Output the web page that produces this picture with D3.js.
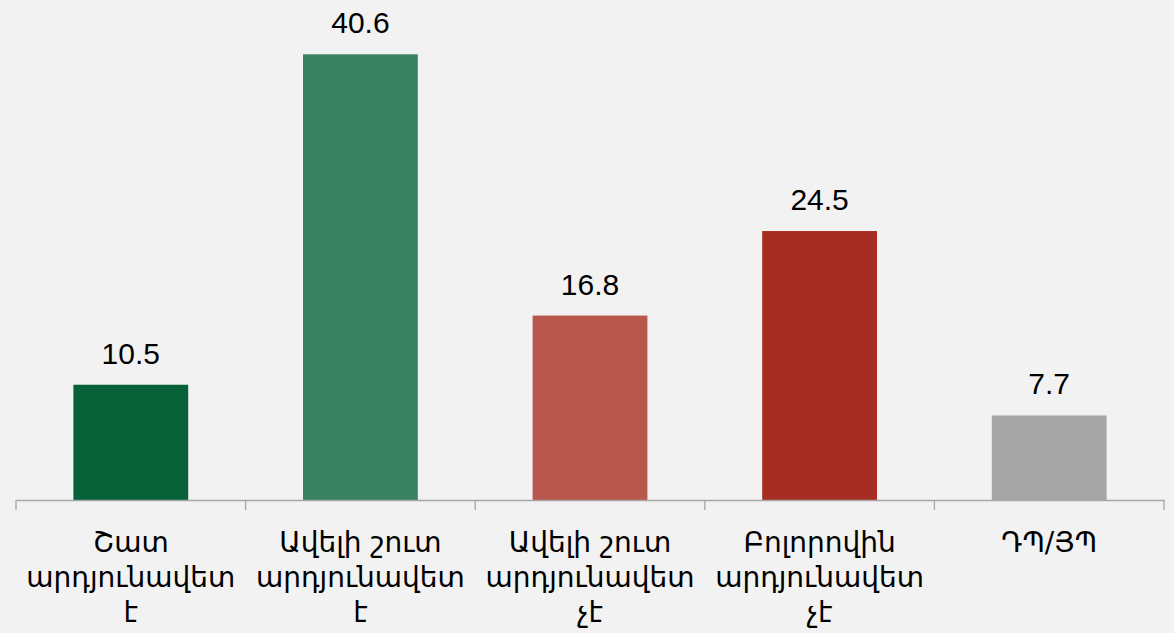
<!DOCTYPE html>
<html>
<head>
<meta charset="utf-8">
<script src="https://cdn.jsdelivr.net/npm/d3@7"></script>
<style>
  html, body { margin: 0; padding: 0; background: #f2f2f2; }
  svg { display: block; }
</style>
</head>
<body>
<svg id="chart" width="1174" height="633"></svg>
<script>
const categories = [
  "Շատ արդյունավետ է",
  "Ավելի շուտ արդյունավետ է",
  "Ավելի շուտ արդյունավետ չէ",
  "Բոլորովին արդյունավետ չէ",
  "ԴՊ/ՅՊ"
];
const values = [10.5, 40.6, 16.8, 24.5, 7.7];
const colors = ["#07623a", "#388262", "#b8574c", "#a52d22", "#a6a6a6"];

const W = 1174, H = 633;
const svg = d3.select("#chart");
svg.append("rect").attr("width", W).attr("height", H).attr("fill", "#f2f2f2");

const x = d3.scaleBand().domain(categories).range([16, 1164]).paddingInner(0).paddingOuter(0);
const y = d3.scaleLinear().domain([0, 45]).range([500, 6]);

const barW = x.bandwidth() * 0.5;

svg.selectAll("rect.bar").data(categories).join("rect")
  .attr("class", "bar")
  .attr("x", d => x(d) + (x.bandwidth() - barW) / 2)
  .attr("y", (d, i) => y(values[i]))
  .attr("width", barW)
  .attr("height", (d, i) => y(0) - y(values[i]))
  .attr("fill", (d, i) => colors[i]);

svg.selectAll("text.val").data(categories).join("text")
  .attr("class", "val")
  .attr("x", d => x(d) + x.bandwidth() / 2)
  .attr("y", (d, i) => y(values[i]) - 21)
  .attr("text-anchor", "middle")
  .attr("font-family", "Liberation Sans, Arial, sans-serif")
  .attr("font-size", 30)
  .attr("fill", "#000")
  .text((d, i) => values[i].toFixed(1));

// axis
const axis = d3.axisBottom(x).tickSize(0).tickFormat("");
const gAxis = svg.append("g").attr("transform", "translate(0,500)").call(axis);
gAxis.select(".domain").attr("stroke", "#a6a6a6").attr("stroke-width", 1.3);
const bounds = x.domain().map(d => x(d)).concat([x.range()[1]]);
gAxis.selectAll("line.sep").data(bounds).join("line")
  .attr("class", "sep")
  .attr("x1", d => d).attr("x2", d => d)
  .attr("y1", 0).attr("y2", 10)
  .attr("stroke", "#a6a6a6").attr("stroke-width", 1.3);

// category labels with wrapping
const labelFont = "DejaVu Sans, Noto Sans, sans-serif";
const labels = svg.selectAll("text.cat").data(categories).join("text")
  .attr("class", "cat")
  .attr("x", d => x(d) + x.bandwidth() / 2)
  .attr("y", 0)
  .attr("text-anchor", "middle")
  .attr("font-family", labelFont)
  .attr("font-size", 28)
  .attr("fill", "#000");

labels.each(function(d) {
  const t = d3.select(this);
  const words = d.split(" ");
  const maxW = x.bandwidth() - 8;
  let lines = [];
  let line = [];
  const tmp = t.append("tspan");
  words.forEach(w => {
    const test = line.concat([w]).join(" ");
    tmp.text(test);
    if (tmp.node().getComputedTextLength() > maxW && line.length) {
      lines.push(line.join(" "));
      line = [w];
    } else {
      line.push(w);
    }
  });
  lines.push(line.join(" "));
  tmp.remove();
  lines.forEach((l, i) => {
    t.append("tspan")
      .attr("x", x(d) + x.bandwidth() / 2)
      .attr("y", 552 + i * 35)
      .text(l);
  });
});
</script>
</body>
</html>
